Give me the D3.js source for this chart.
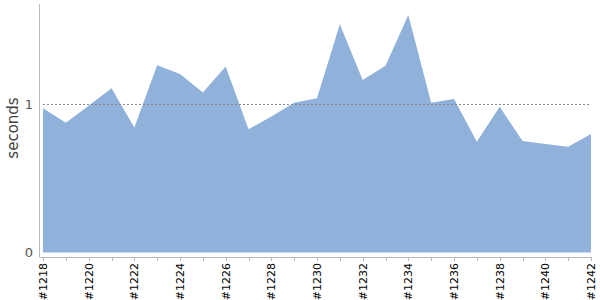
<!DOCTYPE html>
<html>
<head>
<meta charset="utf-8">
<script src="https://cdn.jsdelivr.net/npm/d3@7"></script>
<style>
    body { margin: 0; background: #fff; }
    svg { display: block; font-family: "DejaVu Sans", sans-serif; }
</style>
</head>
<body>
<div id="chart"></div>
<script>
const builds = d3.range(1218, 1243);
const seconds = [0.972, 0.875, 0.99, 1.107, 0.842, 1.262, 1.204, 1.078, 1.253, 0.831,
    0.916, 1.01, 1.04, 1.539, 1.163, 1.258, 1.601, 1.01, 1.035, 0.747,
    0.983, 0.752, 0.732, 0.713, 0.799];
const yTicks = [0, 1];
const refLine = 1;

const width = 600, height = 300;
const plotLeft = 43, plotRight = 591, plotTop = 4, plotBottom = 252.5, axisY = 257;

const data = builds.map((b, i) => ({ build: b, value: seconds[i] }));

const x = d3.scaleLinear().domain([1218, 1242]).range([plotLeft, plotRight]);
const y = d3.scaleLinear().domain([0, 1.675]).range([plotBottom, plotTop]);

const svg = d3.select("#chart").append("svg")
    .attr("width", width)
    .attr("height", height);

const area = d3.area()
    .x(d => x(d.build))
    .y0(y(0))
    .y1(d => y(d.value));

svg.append("path")
    .datum(data)
    .attr("fill", "#8fb1da")
    .attr("d", area);

// dashed reference line at 1 second
svg.append("line")
    .attr("x1", plotLeft).attr("x2", plotRight)
    .attr("y1", Math.round(y(refLine)) + 0.5).attr("y2", Math.round(y(refLine)) + 0.5)
    .attr("stroke", "#888")
    .attr("stroke-width", 1)
    .attr("stroke-dasharray", "2,2");

// y axis
svg.append("line")
    .attr("x1", 39.5).attr("x2", 39.5)
    .attr("y1", plotTop).attr("y2", axisY)
    .attr("stroke", "#bbb");

svg.selectAll(".ylabel")
    .data(yTicks)
    .enter()
    .append("text")
    .attr("x", 33)
    .attr("y", d => y(d))
    .attr("dy", "0.35em")
    .attr("text-anchor", "end")
    .attr("fill", "#555")
    .style("font-size", "13px")
    .text(d => d);

svg.append("text")
    .attr("transform", "translate(18,128) rotate(-90)")
    .attr("text-anchor", "middle")
    .attr("fill", "#444")
    .style("font-size", "15px")
    .text("seconds");

// x axis
svg.append("line")
    .attr("x1", 39.5).attr("x2", plotRight + 1)
    .attr("y1", axisY + 0.5).attr("y2", axisY + 0.5)
    .attr("stroke", "#bbb");

svg.selectAll(".xtick")
    .data(builds)
    .enter()
    .append("line")
    .attr("x1", d => Math.round(x(d)) + 0.5)
    .attr("x2", d => Math.round(x(d)) + 0.5)
    .attr("y1", axisY + 0.5).attr("y2", axisY + 4)
    .attr("stroke", "#bbb");

svg.selectAll(".xlabel")
    .data(builds.filter(b => b % 2 === 0))
    .enter()
    .append("text")
    .attr("transform", d => `translate(${x(d) + 4},${axisY + 6}) rotate(-90)`)
    .attr("text-anchor", "end")
    .attr("fill", "#000")
    .style("font-size", "11px")
    .text(d => "#" + d);
</script>
</body>
</html>
